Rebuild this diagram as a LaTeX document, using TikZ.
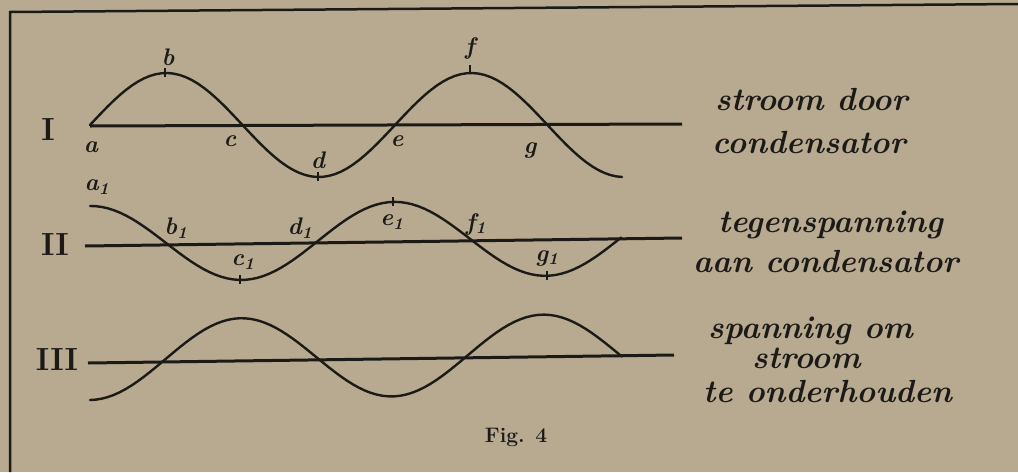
\documentclass[tikz,border=0pt]{standalone}
\usepackage{fontspec}
\usepackage{tikz}
\usetikzlibrary{calc}
\definecolor{cPaper}{HTML}{B8AA90}
\definecolor{cInk}{HTML}{1C1A17}
\newcommand\idx[1]{#1\textsubscript{1}}

\begin{document}
\begin{tikzpicture}[x=1pt,y=-1pt,
  wave/.style={cInk,line width=2.4pt,line cap=round},
  axisline/.style={cInk,line width=3pt},
  tick/.style={cInk,line width=1.4pt},
  pt/.style={text=cInk,font=\fontsize{24}{26}\selectfont\bfseries\itshape,inner sep=0pt},
  hand/.style={text=cInk,font=\fontsize{32}{36}\selectfont\bfseries\itshape\addfontfeature{LetterSpace=6},anchor=base west,inner sep=0pt},
  numeral/.style={text=cInk,font=\fontsize{32}{34}\selectfont\bfseries,inner sep=0pt}]
\fill[cPaper] (0,0) rectangle (1018,472);
\path[use as bounding box] (0,0) rectangle (1018,472);
% frame
\draw[cInk,line width=2.5pt] (10,472)--(10,12)--(1018,4);
% axes
\coordinate (Ia) at (90,126); \coordinate (Iz) at (682,124);
\coordinate (IIa) at (85,246); \coordinate (IIz) at (682,238);
\coordinate (IIIa) at (88,363); \coordinate (IIIz) at (674,355);
\foreach \r in {I,II,III}
  \draw[axisline] (\r a)--(\r z);
% waves
\draw[wave] plot[domain=90:622,samples=90] (\x,{125-52*sin((\x-90)/305*360)});
\draw[wave] plot[domain=90:621,samples=90] (\x,{244-(\x-90)/590*8-38*cos((\x-90)/304*360)});
\draw[wave] plot[domain=90:622,samples=90] (\x,{360-(\x-90)/590*7+40*cos((\x-90)/302*360)});
% ticks
\foreach \p/\x/\y in {b/165/73,d/318/177,f/470/70,c1/240/280,e1/393/202,g1/547/276}{
  \coordinate (t\p) at (\x,\y);
  \draw[tick] ($(t\p)+(0,-5)$)--($(t\p)+(0,4)$);
}
% point labels
\foreach \n/\x/\y in {a/91/147,b/168/57,c/230/141,d/318/160,e/397/141,f/470/48,g/530/150}
  \node[pt] (l\n) at (\x,\y) {\n};
\foreach \n/\x/\y in {a/97/187,b/176/228,c/243/262,d/300/228,e/392/222,f/476/224,g/547/258}
  \node[pt] (l\n1) at (\x,\y) {\idx{\n}};
% row numerals
\node[numeral] (rI) at (48,130) {I};
\node[numeral] (rII) at (55,245) {II};
\node[numeral] (rIII) at (57,360) {III};
% captions right
\node[hand] (tI1) at (715,110) {stroom door};
\node[hand] (tI2) at (712,153) {condensator};
\node[hand] (tII1) at (718,232) {tegenspanning};
\node[hand] (tII2) at (693,272) {aan condensator};
\node[hand] (tIII1) at (708,338) {spanning om};
\node[hand] (tIII2) at (752,368) {stroom};
\node[hand] (tIII3) at (703,402) {te onderhouden};
\node[text=cInk,font=\fontsize{21}{24}\selectfont\bfseries] (fig) at (516,437) {Fig. 4};
\end{tikzpicture}
\end{document}
